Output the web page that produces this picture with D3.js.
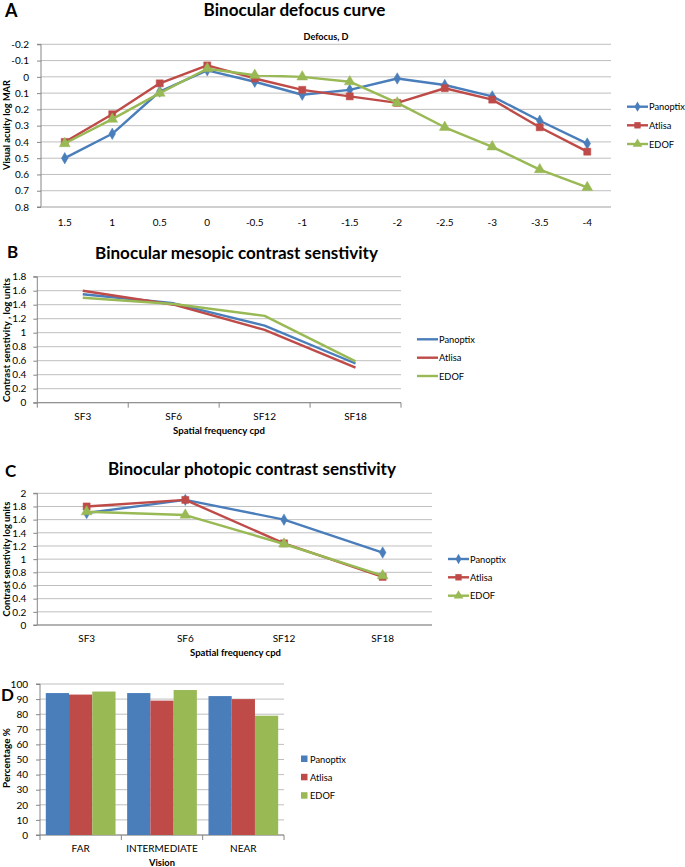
<!DOCTYPE html>
<html><head><meta charset="utf-8">
<script src="https://cdn.jsdelivr.net/npm/d3@7"></script>
<style>
body{margin:0;background:#fff}
text{font-family:Lato,"Open Sans",sans-serif;fill:#000}
</style>
</head><body>
<svg id="c" width="685" height="867"></svg>
<script>
// ---------- DATA ----------
const seriesNames = ["Panoptix", "Atlisa", "EDOF"];
const seriesColors = ["#4A7EBB", "#BE4B48", "#98B954"];

// Panel A: binocular defocus curve (logMAR)
const defocusLevels = ["1.5","1","0.5","0","-0.5","-1","-1.5","-2","-2.5","-3","-3.5","-4"];
const defocusPanoptix = [0.50, 0.35, 0.09, -0.04, 0.03, 0.11, 0.08, 0.01, 0.05, 0.12, 0.27, 0.41];
const defocusAtlisa   = [0.40, 0.23, 0.04, -0.07, 0.01, 0.08, 0.12, 0.16, 0.07, 0.14, 0.31, 0.46];
const defocusEDOF     = [0.41, 0.26, 0.10, -0.05, -0.01, 0.00, 0.03, 0.16, 0.31, 0.43, 0.57, 0.68];
const defocusTicks = [-0.2,-0.1,0,0.1,0.2,0.3,0.4,0.5,0.6,0.7,0.8];

// Panel B: mesopic contrast sensitivity
const spatialFreqs = ["SF3","SF6","SF12","SF18"];
const mesopicPanoptix = [1.55, 1.42, 1.10, 0.56];
const mesopicAtlisa   = [1.60, 1.40, 1.04, 0.50];
const mesopicEDOF     = [1.50, 1.41, 1.24, 0.59];
const mesopicTicks = [0,0.2,0.4,0.6,0.8,1,1.2,1.4,1.6,1.8];

// Panel C: photopic contrast sensitivity
const photopicPanoptix = [1.70, 1.90, 1.60, 1.10];
const photopicAtlisa   = [1.80, 1.90, 1.24, 0.73];
const photopicEDOF     = [1.72, 1.67, 1.23, 0.75];
const photopicTicks = [0,0.2,0.4,0.6,0.8,1,1.2,1.4,1.6,1.8,2];

// Panel D: percentage by vision distance
const visionCats = ["FAR","INTERMEDIATE","NEAR"];
const visionPanoptix = [94, 94, 92];
const visionAtlisa   = [93, 89, 90];
const visionEDOF     = [95, 96, 79];
const visionTicks = [0,10,20,30,40,50,60,70,80,90,100];

// ---------- HELPERS ----------
const svg = d3.select("#c");
const GRID = "#BFBFBF", AXIS = "#868686";
const fmt = d => String(+(+d).toFixed(1));

function fitText(sel, w) {
  const n = sel.node(); const cur = n.getComputedTextLength();
  const fs = parseFloat(sel.attr("font-size"));
  sel.attr("font-size", (fs * w / cur).toFixed(2));
  return sel;
}
function label(x, y, str, opts) {
  const t = svg.append("text").attr("x", x).attr("y", y).text(str)
    .attr("font-size", opts.size || 10)
    .attr("font-weight", opts.bold ? "bold" : null)
    .attr("text-anchor", opts.anchor || "middle");
  if (opts.rotate) t.attr("transform", `rotate(-90,${x},${y})`);
  if (opts.width) fitText(t, opts.width);
  return t;
}

function frame(cfg) {
  const x = d3.scaleBand().domain(cfg.cats).range([cfg.left, cfg.right]);
  const y = d3.scaleLinear().domain(cfg.domain).range(cfg.reversed ? [cfg.top, cfg.bottom] : [cfg.bottom, cfg.top]);
  const g = svg.append("g");
  g.selectAll("line.grid").data(cfg.ticks).join("line")
    .attr("x1", cfg.left).attr("x2", cfg.right)
    .attr("y1", d => y(d)).attr("y2", d => y(d))
    .attr("stroke", GRID).attr("stroke-width", 1);
  const ya = g.append("g").attr("transform", `translate(${cfg.left},0)`)
    .call(d3.axisLeft(y).tickValues(cfg.ticks).tickFormat(cfg.tickFormat || fmt).tickSize(4).tickPadding(cfg.ypad || 4));
  ya.select(".domain").attr("stroke", AXIS).attr("d", `M-4,${cfg.top}H0V${cfg.bottom}H-4`);
  ya.selectAll(".tick line").attr("stroke", AXIS);
  ya.selectAll("text").attr("font-size", 10).attr("font-family", "Lato").attr("fill", "#000");
  const axisY = cfg.reversed ? cfg.bottom : y(0);
  const xa = g.append("g").attr("transform", `translate(0,${axisY})`)
    .call(d3.axisBottom(x).tickSize(0).tickPadding(cfg.xpad || 12));
  xa.select(".domain").attr("stroke", cfg.reversed ? GRID : AXIS).attr("d", `M${cfg.left},0H${cfg.right}`);
  xa.selectAll("text").attr("font-size", 10).attr("font-family", "Lato").attr("fill", "#000");
  if (cfg.bandTicks) {
    const bounds = cfg.cats.map(c => x(c)).concat([cfg.right]);
    g.selectAll("line.bt").data(bounds).join("line")
      .attr("x1", d => d).attr("x2", d => d)
      .attr("y1", axisY).attr("y2", axisY + 5)
      .attr("stroke", AXIS);
  }
  return {x, y, g};
}

function lineSeries(f, cats, values, color, marker) {
  const cx = c => f.x(c) + f.x.bandwidth() / 2;
  const line = d3.line().x((d, i) => cx(cats[i])).y(d => f.y(d));
  f.g.append("path").datum(values).attr("d", line)
    .attr("fill", "none").attr("stroke", color).attr("stroke-width", 2.4)
    .attr("stroke-linejoin", "round");
  if (marker) {
    const sym = d3.symbol().type(marker.type).size(marker.size);
    f.g.selectAll(null).data(values).join("path")
      .attr("d", sym)
      .attr("transform", (d, i) => `translate(${cx(cats[i])},${f.y(d)})`)
      .attr("fill", color).attr("stroke", color).attr("stroke-width", 0.5);
  }
}

function legend(x, ys, kind, markers) {
  let size = null;
  seriesNames.forEach((n, i) => {
    const yy = ys[i];
    let tx = x + 22;
    if (kind === "square") {
      svg.append("rect").attr("x", x).attr("y", yy - 3.5).attr("width", 6.5).attr("height", 6.5).attr("fill", seriesColors[i]);
      tx = x + 9;
    } else {
      svg.append("line").attr("x1", x).attr("x2", x + 21).attr("y1", yy).attr("y2", yy)
        .attr("stroke", seriesColors[i]).attr("stroke-width", 2.4);
      if (markers) {
        svg.append("path").attr("d", d3.symbol().type(markers[i].type).size(markers[i].size * 0.8))
          .attr("transform", `translate(${x + 10.5},${yy})`).attr("fill", seriesColors[i]);
      }
    }
    const t = label(tx, yy + 3.5, n, {size: size || 10.5, anchor: "start", width: size ? null : 36});
    if (!size) size = parseFloat(t.attr("font-size"));
  });
}

const markers = [
  {type: d3.symbolDiamond, size: 38},
  {type: d3.symbolSquare, size: 50},
  {type: d3.symbolTriangle, size: 50}
];

// ---------- PANEL A ----------
label(5, 17, "A", {size: 18, bold: true, anchor: "start"});
label(294.5, 16, "Binocular defocus curve", {size: 18, bold: true, width: 182});
label(326, 40, "Defocus, D", {size: 9, bold: true, width: 45});
label(10, 125, "Visual acuity log MAR", {size: 9.5, bold: true, rotate: true, width: 90});
const fA = frame({cats: defocusLevels, left: 41, right: 611, top: 44.3, bottom: 207, domain: [-0.2, 0.8],
  reversed: true, ticks: defocusTicks, xpad: 12, ypad: 8});
[defocusPanoptix, defocusAtlisa, defocusEDOF].forEach((v, i) => lineSeries(fA, defocusLevels, v, seriesColors[i], markers[i]));
legend(627, [106.7, 125.3, 144], "line", markers);

// ---------- PANEL B ----------
label(7, 258, "B", {size: 17, bold: true, anchor: "start"});
label(236.5, 259, "Binocular mesopic contrast senstivity", {size: 17, bold: true, width: 283});
label(219, 434, "Spatial frequency cpd", {size: 9.5, bold: true, width: 92});
label(10, 340, "Contrast senstivity , log units", {size: 9.5, bold: true, rotate: true, width: 124});
const fB = frame({cats: spatialFreqs, left: 37.3, right: 401, top: 276.7, bottom: 402.7, domain: [0, 1.8],
  ticks: mesopicTicks, bandTicks: true, xpad: 10, ypad: 7});
[mesopicPanoptix, mesopicAtlisa, mesopicEDOF].forEach((v, i) => lineSeries(fB, spatialFreqs, v, seriesColors[i], null));
legend(417, [339.3, 357.7, 376], "line", null);

// ---------- PANEL C ----------
label(5, 476.5, "C", {size: 17, bold: true, anchor: "start"});
label(252, 475, "Binocular photopic contrast senstivity", {size: 17, bold: true, width: 288});
label(235.5, 656, "Spatial frequency cpd", {size: 9.5, bold: true, width: 91});
label(10, 559, "Contrast senstivity log units", {size: 9.5, bold: true, rotate: true, width: 115});
const fC = frame({cats: spatialFreqs, left: 37.3, right: 432, top: 493.3, bottom: 625, domain: [0, 2],
  ticks: photopicTicks, xpad: 10, ypad: 7});
[photopicPanoptix, photopicAtlisa, photopicEDOF].forEach((v, i) => lineSeries(fC, spatialFreqs, v, seriesColors[i], markers[i]));
legend(448, [559, 577.3, 595.7], "line", markers);

// ---------- PANEL D ----------
label(1, 701, "D", {size: 17, bold: true, anchor: "start"});
label(162, 866, "Vision", {size: 10, bold: true, width: 26});
label(10, 758, "Percentage %", {size: 9.5, bold: true, rotate: true, width: 60});
const fD = frame({cats: visionCats, left: 40, right: 284, top: 684, bottom: 835, domain: [0, 100],
  ticks: visionTicks, bandTicks: true, xpad: 10, ypad: 8, tickFormat: d => String(d)});
const inner = d3.scaleBand().domain(seriesNames).range([0, fD.x.bandwidth()]).paddingOuter(0.25).paddingInner(0);
const barData = visionCats.flatMap((c, ci) =>
  [visionPanoptix, visionAtlisa, visionEDOF].map((arr, si) => ({c, s: seriesNames[si], v: arr[ci], color: seriesColors[si]})));
fD.g.selectAll("rect.bar").data(barData).join("rect")
  .attr("x", d => fD.x(d.c) + inner(d.s)).attr("width", inner.bandwidth())
  .attr("y", d => fD.y(d.v)).attr("height", d => fD.y(0) - fD.y(d.v))
  .attr("fill", d => d.color);
legend(301, [759, 777.3, 795.7], "square", null);
</script>
</body></html>
